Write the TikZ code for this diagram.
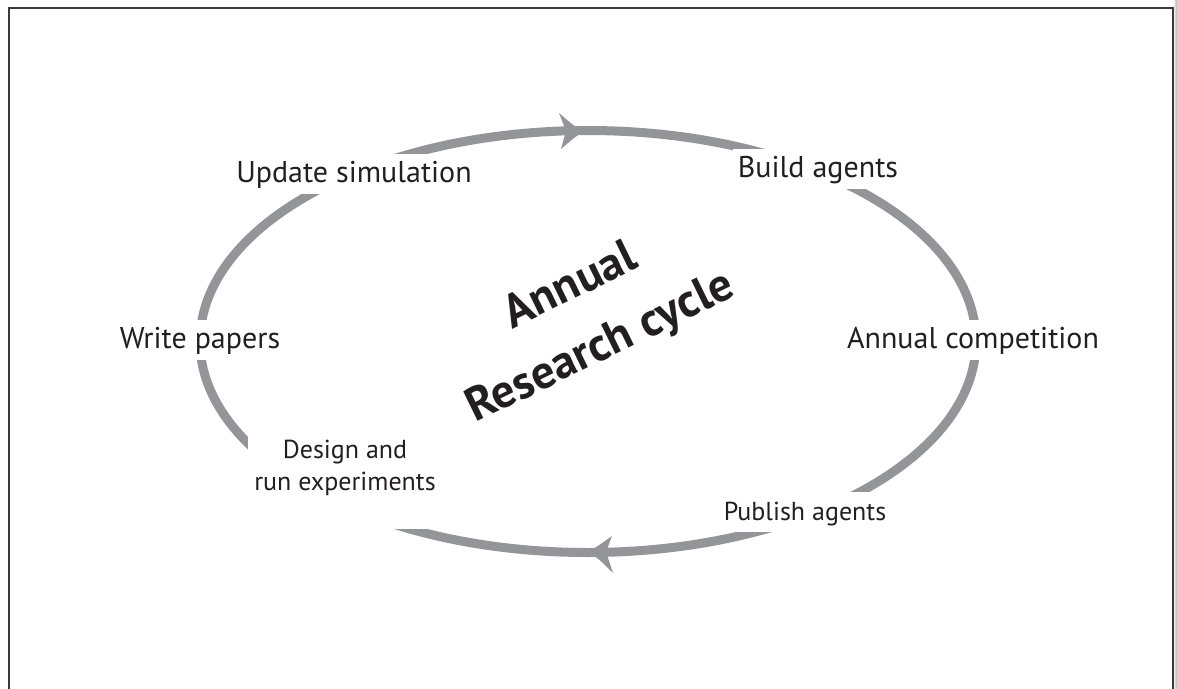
\documentclass[tikz,border=0pt]{standalone}
\usepackage{fontspec}
\setmainfont{PT Sans}
\usetikzlibrary{calc}
\definecolor{ink}{HTML}{231F20}
\definecolor{ringgray}{HTML}{939598}
\definecolor{framegray}{HTML}{3A3A3A}
\begin{document}
\begin{tikzpicture}[x=1pt,y=-1pt,
  ring/.style={draw=ringgray, line width=9pt},
  headfill/.style={fill=ringgray},
  lbl/.style={fill=white, text=ink, font=\fontsize{30}{34}\selectfont,
    inner xsep=5pt, inner ysep=4pt, text height=24pt, text depth=8pt, anchor=base},
  smalllbl/.style={lbl, font=\fontsize{26}{30}\selectfont},
  lbltwo/.style={fill=white, text=ink, font=\fontsize{26}{32}\selectfont,
    align=center, inner xsep=6pt, inner ysep=6pt, text depth=32pt, anchor=north},
  title/.style={text=ink, font=\bfseries\fontsize{47}{68}\selectfont,
    align=center, rotate=26}]
\useasboundingbox (0,0) rectangle (1177,688);

% page frame with a soft shadow on the right
\fill[left color=white, right color=gray!60] (1173,0) rectangle (1177,688);
\draw[framegray, line width=2pt] (8.5,700) -- (8.5,7.5) -- (1172.5,7.5) -- (1172.5,700);

% the research cycle ring
\coordinate (c) at (588,341.5);
\draw[ring] (c) ellipse [x radius=388pt, y radius=211pt];

% direction heads on the ring
\coordinate (toptip) at (584,131);
\coordinate (bottip) at (588,552);
\fill[headfill] (toptip) .. controls (574,126) .. (559,113) -- (566,131)
  -- (561,149) .. controls (575,137) .. (toptip) -- cycle;
\fill[headfill] (bottip) .. controls (598,546) .. (612,536) -- (606,552)
  -- (613,573) .. controls (599,559) .. (bottip) -- cycle;

% stages of the cycle
\node[lbl] (update) at (354,182) {Update simulation};
\node[lbl] (build) at (818,177) {Build agents};
\node[lbl] (write) at (200,348) {Write papers};
\node[lbl] (compete) at (973,348) {Annual competition};
\node[smalllbl] (publish) at (805,520) {Publish agents};
\node[lbltwo] (design) at (345,434) {Design and\\run experiments};

% centre title
\node[title] (cycle) at (586,318) {Annual\\Research cycle};
\end{tikzpicture}
\end{document}
